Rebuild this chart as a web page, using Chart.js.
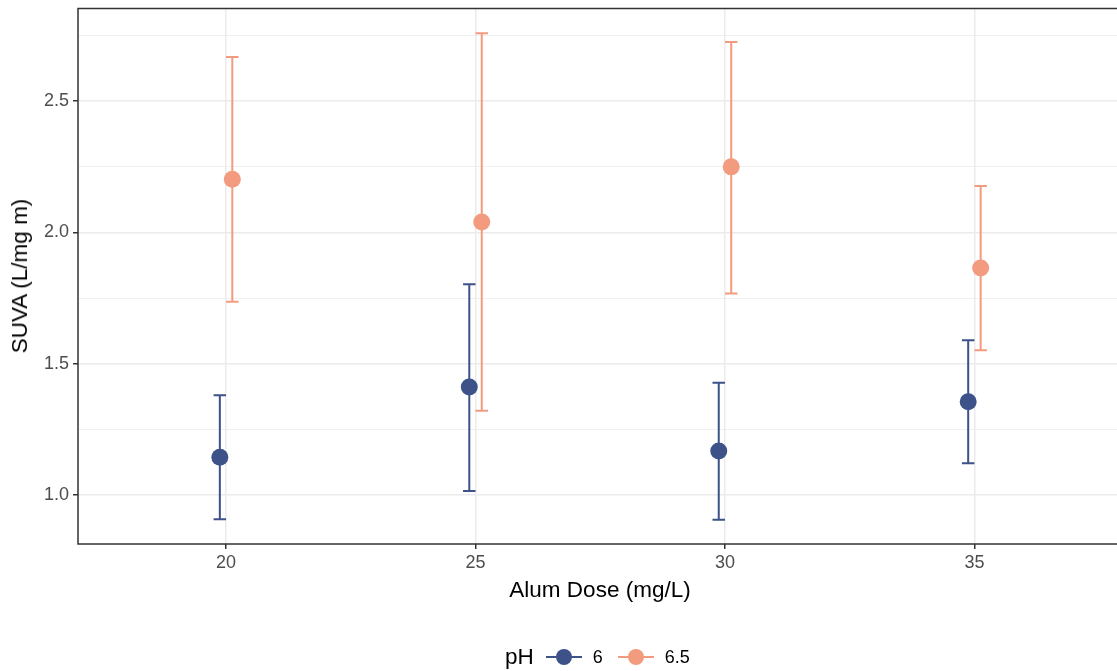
<!DOCTYPE html>
<html>
<head>
<meta charset="utf-8">
<script src="https://cdn.jsdelivr.net/npm/chart.js@4.4.1/dist/chart.umd.min.js"></script>
<style>
  body { margin: 0; background: #fff; font-family: "Liberation Sans", Arial, sans-serif; }
  #wrap { position: relative; width: 1117px; height: 671px; overflow: hidden; }
  #chartBox { position: absolute; left: 0; top: 0; width: 1131px; height: 671px; }
  #chart { display: block; max-width: none; }
  .ytitle { position: absolute; left: 20px; top: 276px; transform: translate(-50%, -50%) rotate(-90deg); font-size: 22.5px; color: #000; white-space: nowrap; }
  .xtitle { position: absolute; left: 600px; top: 590px; transform: translate(-50%, -50%); font-size: 22.5px; color: #000; white-space: nowrap; }
  .legend { position: absolute; left: 505px; top: 657px; transform: translateY(-50%); display: flex; align-items: center; white-space: nowrap; }
  .legend .ttl { font-size: 22.5px; margin-right: 12px; }
  .legend .key { position: relative; width: 36px; height: 18px; margin-right: 11px; }
  .legend .key .ln { position: absolute; left: 0; right: 0; top: 8px; height: 2px; }
  .legend .key .dot { position: absolute; left: 10px; top: 1px; width: 16px; height: 16px; border-radius: 50%; }
  .legend .lab { font-size: 18px; margin-right: 15px; }
</style>
</head>
<body>
<div id="wrap">
  <div id="chartBox"><canvas id="chart"></canvas></div>
  <div class="ytitle">SUVA (L/mg m)</div>
  <div class="xtitle">Alum Dose (mg/L)</div>
  <div class="legend" id="legend"></div>
</div>
<script>
// datos
const doses = [20, 25, 30, 35];
const seriesNames = ["6", "6.5"];

const ph6Mean = [1.144, 1.412, 1.168, 1.356];
const ph6Low  = [0.908, 1.016, 0.906, 1.121];
const ph6High = [1.380, 1.803, 1.428, 1.590];

const ph65Mean = [2.203, 2.040, 2.250, 1.865];
const ph65Low  = [1.736, 1.321, 1.768, 1.552];
const ph65High = [2.668, 2.759, 2.725, 2.177];

const yMajorTicks = [1.0, 1.5, 2.0, 2.5];
const yMinorTicks = [1.25, 1.75, 2.25, 2.75];

const colors = ["#3d5289", "#f39b7f"];
const dodge = 0.125;

const series = [
    { name: seriesNames[0], mean: ph6Mean, low: ph6Low, high: ph6High, color: colors[0], shift: -dodge },
    { name: seriesNames[1], mean: ph65Mean, low: ph65Low, high: ph65High, color: colors[1], shift: dodge }
];

// barras de error dibujadas con las escalas del gráfico
const errorBars = {
    id: "errorBars",
    beforeDatasetsDraw(chart) {
        const ctx = chart.ctx;
        const xs = chart.scales.x, ys = chart.scales.y;
        ctx.save();
        series.forEach(s => {
            ctx.strokeStyle = s.color;
            ctx.lineWidth = 2;
            doses.forEach((d, i) => {
                const x = xs.getPixelForValue(d + s.shift);
                const xl = xs.getPixelForValue(d + s.shift - 0.125);
                const xr = xs.getPixelForValue(d + s.shift + 0.125);
                const yl = ys.getPixelForValue(s.low[i]);
                const yh = ys.getPixelForValue(s.high[i]);
                ctx.beginPath();
                ctx.moveTo(x, yl); ctx.lineTo(x, yh);
                ctx.moveTo(xl, yl); ctx.lineTo(xr, yl);
                ctx.moveTo(xl, yh); ctx.lineTo(xr, yh);
                ctx.stroke();
            });
        });
        ctx.restore();
    }
};

// borde del panel
const panelBorder = {
    id: "panelBorder",
    afterDraw(chart) {
        const a = chart.chartArea;
        const ctx = chart.ctx;
        ctx.save();
        ctx.strokeStyle = "#333333";
        ctx.lineWidth = 1.5;
        ctx.strokeRect(a.left, a.top, a.right - a.left, a.bottom - a.top);
        ctx.restore();
    }
};

const isMajor = v => yMajorTicks.some(t => Math.abs(t - v) < 1e-6);

const noEdgePadding = scale => {
    scale.paddingTop = 0; scale.paddingBottom = 0;
    scale.paddingLeft = 0; scale.paddingRight = 0;
};

new Chart(document.getElementById("chart"), {
    type: "scatter",
    data: {
        datasets: series.map(s => ({
            label: s.name,
            data: doses.map((d, i) => ({ x: d + s.shift, y: s.mean[i] })),
            backgroundColor: s.color,
            borderWidth: 0,
            pointRadius: 8.5,
            pointHoverRadius: 8.5
        }))
    },
    options: {
        responsive: true,
        maintainAspectRatio: false,
        devicePixelRatio: 1,
        animation: false,
        layout: { padding: { left: 0, top: 8, right: 0, bottom: 0 } },
        plugins: { legend: { display: false }, tooltip: { enabled: false } },
        scales: {
            x: {
                type: "linear",
                min: 17.032,
                max: 37.968,
                afterBuildTicks: scale => { scale.ticks = doses.map(v => ({ value: v })); },
                afterFit: scale => { scale.height = 127; noEdgePadding(scale); },
                border: { display: false },
                grid: { color: "#ebebeb", lineWidth: 1.5, tickLength: 5, tickColor: "#333333" },
                ticks: {
                    autoSkip: false,
                    maxRotation: 0,
                    padding: 3,
                    color: "#4d4d4d",
                    font: { family: "'Liberation Sans', Arial, sans-serif", size: 18 },
                    callback: v => String(v)
                }
            },
            y: {
                min: 0.814,
                max: 2.853,
                afterBuildTicks: scale => {
                    scale.ticks = yMajorTicks.concat(yMinorTicks).sort((a, b) => a - b).map(v => ({ value: v }));
                },
                afterFit: scale => { scale.width = 78; noEdgePadding(scale); },
                border: { display: false },
                grid: {
                    color: "#ebebeb",
                    lineWidth: c => (c.tick && isMajor(c.tick.value)) ? 1.5 : 0.75,
                    tickLength: 5,
                    tickColor: c => (c.tick && isMajor(c.tick.value)) ? "#333333" : "rgba(0,0,0,0)"
                },
                ticks: {
                    autoSkip: false,
                    padding: 4,
                    color: "#4d4d4d",
                    font: { family: "'Liberation Sans', Arial, sans-serif", size: 18 },
                    callback: v => isMajor(v) ? v.toFixed(1) : ""
                }
            }
        }
    },
    plugins: [errorBars, panelBorder]
});

// leyenda en HTML
const legend = document.getElementById("legend");
legend.innerHTML = '<span class="ttl">pH</span>' + series.map(s =>
    `<span class="key"><span class="ln" style="background:${s.color}"></span><span class="dot" style="background:${s.color}"></span></span><span class="lab">${s.name}</span>`
).join("");
</script>
</body>
</html>
